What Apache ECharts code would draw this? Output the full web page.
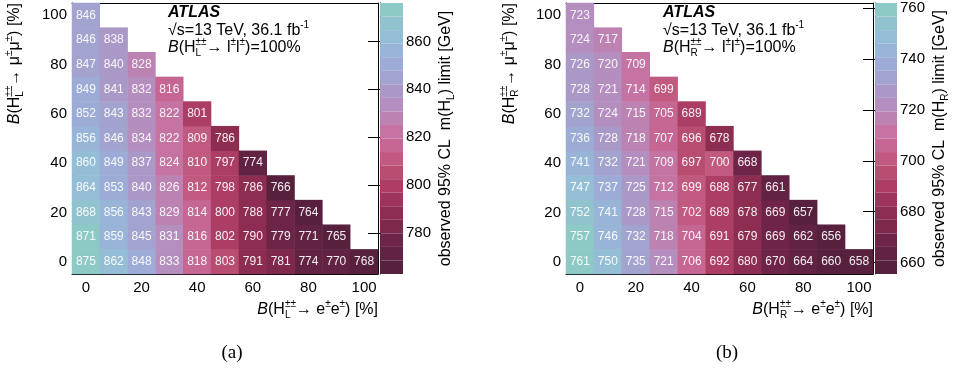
<!DOCTYPE html>
<html>
<head>
<meta charset="utf-8">
<script src="https://cdn.jsdelivr.net/npm/echarts@6/dist/echarts.min.js"></script>
<style>
  html, body { margin: 0; padding: 0; background: #fff; }
  #chart { width: 961px; height: 376px; }
</style>
</head>
<body>
<div id="chart"></div>
<script>
// branching ratios on both axes [%]
const brValues = ["0", "10", "20", "30", "40", "50", "60", "70", "80", "90", "100"];

// observed mass limits [GeV], one row per B(mu mu) = 0, 10, ... 100, columns B(ee) = 0, 10, ...
const limitsL = [
  [875, 862, 848, 833, 818, 803, 791, 781, 774, 770, 768],
  [871, 859, 845, 831, 816, 802, 790, 779, 771, 765],
  [868, 856, 843, 829, 814, 800, 788, 777, 764],
  [864, 853, 840, 826, 812, 798, 786, 766],
  [860, 849, 837, 824, 810, 797, 774],
  [856, 846, 834, 822, 809, 786],
  [852, 843, 832, 822, 801],
  [849, 841, 832, 816],
  [847, 840, 828],
  [846, 838],
  [846],
];
const limitsR = [
  [761, 750, 735, 721, 706, 692, 680, 670, 664, 660, 658],
  [757, 746, 732, 718, 704, 691, 679, 669, 662, 656],
  [752, 741, 728, 715, 702, 689, 678, 669, 657],
  [747, 737, 725, 712, 699, 688, 677, 661],
  [741, 732, 721, 709, 697, 700, 668],
  [736, 728, 718, 707, 696, 678],
  [732, 724, 715, 705, 689],
  [728, 721, 714, 699],
  [726, 720, 709],
  [724, 717],
  [723],
];

// colour scale ranges and labelled ticks
const rangeL = [763, 876];
const rangeR = [655.5, 762];
const barTicksL = [780, 800, 820, 840, 860];
const barTicksR = [660, 680, 700, 720, 740, 760];

const palette = [
  "#57213e", "#6c2445", "#8b2b50", "#a93a61", "#bf5479", "#c86c9c",
  "#b888b8", "#a79cca", "#9baed8", "#94bed6", "#8dc9c5",
];

const FONT = "Liberation Sans";
const chart = echarts.init(document.getElementById("chart"));

function cells(rows) {
  const out = [];
  rows.forEach((row, iy) => row.forEach((v, ix) => out.push([ix, iy, v])));
  return out;
}

// rich text pieces: normal, italic, superscript, subscript, subscript stacked under the next piece
const rich = {
  n: { fontSize: 16, fontFamily: FONT, lineHeight: 21, align: "left" },
  it: { fontStyle: "italic", fontSize: 16, fontFamily: FONT, lineHeight: 21, align: "left" },
  sup: { fontSize: 10, fontFamily: FONT, lineHeight: 10, verticalAlign: "top", align: "left" },
  sub: { fontSize: 10, fontFamily: FONT, lineHeight: 10, verticalAlign: "bottom", align: "left" },
  subz: { fontSize: 10, fontFamily: FONT, lineHeight: 10, verticalAlign: "bottom", align: "left", width: 0 },
};

function brTitle(hand, ch) {
  return "{it|B}{n|(H}{subz|" + hand + "}{sup|±±}{n|→ " + ch + "}{sup|±}{n|" + ch + "}{sup|±}{n|) [%]}";
}

// x axes of one panel: labelled major ticks, minor ticks, mirrored top
function xAxesFor(g) {
  const base = { type: "category", gridIndex: g, data: brValues, boundaryGap: true };
  return [
    Object.assign({}, base, {
      position: "bottom",
      axisLine: { lineStyle: { color: "#000", width: 1 } },
      axisTick: { alignWithLabel: true, interval: 1, length: 6, lineStyle: { color: "#000" } },
      axisLabel: { interval: 1, color: "#000", fontSize: 15, fontFamily: FONT, margin: 6 },
    }),
    Object.assign({}, base, {
      position: "bottom",
      axisLine: { show: false },
      axisTick: { alignWithLabel: true, interval: 0, length: 3, lineStyle: { color: "#000" } },
      axisLabel: { show: false },
    }),
    Object.assign({}, base, {
      position: "top",
      axisLine: { lineStyle: { color: "#000", width: 1 } },
      axisTick: { alignWithLabel: true, interval: 1, inside: true, length: 6, lineStyle: { color: "#000" } },
      axisLabel: { show: false },
    }),
    Object.assign({}, base, {
      position: "top",
      axisLine: { show: false },
      axisTick: { alignWithLabel: true, interval: 0, inside: true, length: 3, lineStyle: { color: "#000" } },
      axisLabel: { show: false },
    }),
  ];
}

function yAxesFor(g) {
  const base = { type: "category", gridIndex: g, data: brValues, boundaryGap: true };
  return [
    Object.assign({}, base, {
      position: "left",
      axisLine: { lineStyle: { color: "#000", width: 1 } },
      axisTick: { alignWithLabel: true, interval: 1, length: 6, lineStyle: { color: "#000" } },
      axisLabel: { interval: 1, color: "#000", fontSize: 15, fontFamily: FONT, margin: 5 },
    }),
    Object.assign({}, base, {
      position: "left",
      axisLine: { show: false },
      axisTick: { alignWithLabel: true, interval: 0, length: 3, lineStyle: { color: "#000" } },
      axisLabel: { show: false },
    }),
    Object.assign({}, base, {
      position: "right",
      axisLine: { lineStyle: { color: "#000", width: 1 } },
      axisTick: { alignWithLabel: true, interval: 1, inside: true, length: 6, lineStyle: { color: "#000" } },
      axisLabel: { show: false },
    }),
    Object.assign({}, base, {
      position: "right",
      axisLine: { show: false },
      axisTick: { alignWithLabel: true, interval: 0, inside: true, length: 3, lineStyle: { color: "#000" } },
      axisLabel: { show: false },
    }),
  ];
}

function barAxis(g, range, ticks, hand) {
  return {
    type: "value",
    gridIndex: g,
    position: "right",
    min: range[0],
    max: range[1],
    splitLine: { show: false },
    axisLine: { show: true, lineStyle: { color: "#000", width: 1 } },
    axisTick: { show: true, inside: true, length: 12, customValues: ticks, lineStyle: { color: "#000" } },
    axisLabel: { customValues: ticks, color: "#000", fontSize: 15, fontFamily: FONT, margin: 3 },
    name: "{n|observed 95% CL  m(H}{sub|" + hand + "}{n|) limit [GeV]}",
    nameLocation: "middle",
    nameRotate: 90,
    nameGap: 30,
    nameTextStyle: { color: "#000", fontSize: 16, fontFamily: FONT, lineHeight: 21, rich: rich },
  };
}

function heat(g, rows) {
  return {
    type: "heatmap",
    xAxisIndex: g * 4,
    yAxisIndex: g * 4,
    data: cells(rows),
    label: { show: true, color: "rgba(255,255,255,0.92)", fontSize: 12, fontFamily: FONT },
    itemStyle: { borderWidth: 0 },
    emphasis: { disabled: true },
  };
}

function colourBar(idx, range, left, width) {
  return {
    type: "piecewise",
    seriesIndex: idx,
    min: range[0],
    max: range[1],
    splitNumber: 20,
    orient: "vertical",
    left: left,
    top: 3,
    padding: 0,
    itemGap: 0,
    itemWidth: width,
    itemHeight: 271 / 20,
    itemSymbol: "rect",
    showLabel: false,
    selectedMode: false,
    hoverLink: false,
    text: null,
    inRange: { color: palette },
  };
}

function titleText(x, y, text, align, rotate) {
  return {
    type: "text",
    x: x,
    y: y,
    rotation: rotate ? Math.PI / 2 : 0,
    style: {
      text: text,
      rich: rich,
      fill: "#000",
      fontSize: 16,
      fontFamily: FONT,
      lineHeight: 21,
      align: align,
      verticalAlign: "middle",
    },
  };
}

function atlasLabel(x, hand) {
  return [
    {
      type: "text", x: x, y: 13,
      style: { text: "ATLAS", fill: "#000", fontSize: 16, fontWeight: "bold", fontStyle: "italic",
               fontFamily: FONT, align: "left", verticalAlign: "middle" },
    },
    titleText(x, 31, "{n|√s=13 TeV, 36.1 fb}{sup|-1}", "left", false),
    titleText(x, 48, "{it|B}{n|(H}{subz|" + hand + "}{sup|±±}{n|→ l}{sup|±}{n|l}{sup|±}{n|)=100%}", "left", false),
  ];
}

const option = {
  animation: false,
  backgroundColor: "#fff",
  grid: [
    { left: 72, top: 3, width: 306, height: 271 },
    { left: 566, top: 3, width: 307, height: 271 },
    { left: 380, top: 3, width: 23, height: 271 },
    { left: 875, top: 3, width: 22, height: 271 },
  ],
  xAxis: xAxesFor(0).concat(xAxesFor(1), [
    { type: "value", gridIndex: 2, show: false },
    { type: "value", gridIndex: 3, show: false },
  ]),
  yAxis: yAxesFor(0).concat(yAxesFor(1), [
    barAxis(2, rangeL, barTicksL, "L"),
    barAxis(3, rangeR, barTicksR, "R"),
  ]),
  visualMap: [colourBar(0, rangeL, 380, 23), colourBar(1, rangeR, 875, 22)],
  series: [heat(0, limitsL), heat(1, limitsR)],
  graphic: [
    titleText(378, 310, brTitle("L", "e"), "right", false),
    titleText(873, 310, brTitle("R", "e"), "right", false),
    titleText(15, 3, brTitle("L", "μ"), "right", true),
    titleText(510, 3, brTitle("R", "μ"), "right", true),
    {
      type: "text", x: 232, y: 353,
      style: { text: "(a)", fill: "#000", fontSize: 19, fontFamily: "Liberation Serif",
               align: "center", verticalAlign: "middle" },
    },
    {
      type: "text", x: 727, y: 353,
      style: { text: "(b)", fill: "#000", fontSize: 19, fontFamily: "Liberation Serif",
               align: "center", verticalAlign: "middle" },
    },
  ].concat(atlasLabel(168, "L"), atlasLabel(663, "R")),
};

chart.setOption(option);
window.addEventListener("resize", () => chart.resize());
</script>
</body>
</html>
